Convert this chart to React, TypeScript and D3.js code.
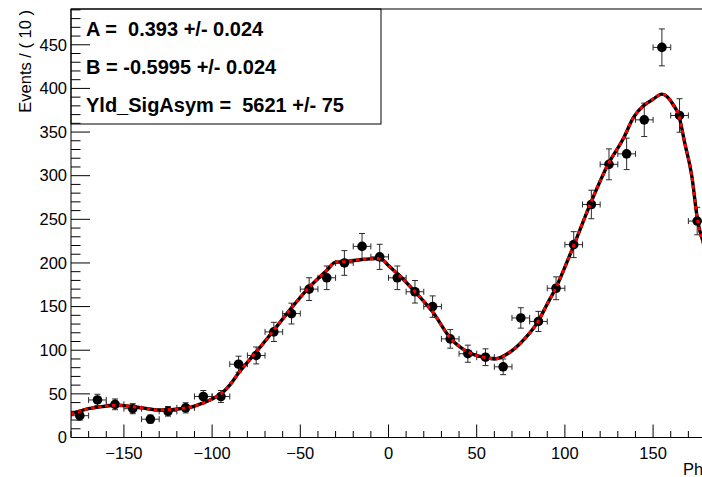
import React from "react";
import * as d3 from "d3";

// Bin centres (degrees) and event counts per 10-degree bin
const binCenters = [
  -175, -165, -155, -145, -135, -125, -115, -105, -95, -85, -75, -65, -55, -45, -35, -25, -15, -5,
  5, 15, 25, 35, 45, 55, 65, 75, 85, 95, 105, 115, 125, 135, 145, 155, 165, 175,
];
const binCounts = [
  25, 43, 38, 33, 21, 30, 34, 47, 47, 84, 94, 121, 142, 170, 183, 200, 219, 207,
  183, 167, 150, 113, 96, 92, 81, 137, 133, 171, 221, 267, 313, 325, 364, 447, 369, 248,
];

// Fitted PDF curve (phi, events per bin)
const fitPhi = [
  -180, -170, -160, -155, -150, -140, -130, -120, -110, -100, -95, -90, -85, -80, -75, -65, -56, -45,
  -35, -30, -25, -15, -7, -3, 0, 6.5, 15, 25, 35, 45, 55, 60, 69, 78, 84.5, 90, 95, 104, 114.5,
  124.5, 133, 139, 144.5, 150, 155, 158, 161.5, 164.5, 168, 172, 175, 180,
];
const fitVal = [
  27, 33, 36, 37, 36.5, 34, 31.5, 32.5, 36, 44, 50, 60, 74, 86, 98, 123, 146, 172,
  191.5, 201, 201.5, 204, 205, 203, 197, 185, 167, 144, 114, 98, 91.5, 90, 98, 115, 132, 153, 172, 215, 268,
  313, 342, 367, 380, 387.6, 393.5, 390.5, 381, 369.6, 337, 299, 252, 215,
];

const xMajorTicks = [-150, -100, -50, 0, 50, 100, 150];
const yMajorTicks = [0, 50, 100, 150, 200, 250, 300, 350, 400, 450];

const legendLines = [
  "A =  0.393 +/- 0.024",
  "B = -0.5995 +/- 0.024",
  "Yld_SigAsym =  5621 +/- 75",
];

const W = 702;
const H = 477;
const FONT = "'Liberation Sans', Arial, Helvetica, sans-serif";

export default function App() {
  const left = 71;
  const right = 706;
  const top = 9;
  const bottom = 437.5;

  const x = d3.scaleLinear().domain([-180, 180]).range([left, right]);
  const y = d3.scaleLinear().domain([0, 491]).range([bottom, top]);

  const xMinor = d3.range(-180, 181, 10).filter((v) => !xMajorTicks.includes(v));
  const yMinor = d3.range(0, 491, 10).filter((v) => !yMajorTicks.includes(v));

  const curveData = fitPhi.map((p, i) => [p, fitVal[i]] as [number, number]);
  const line = d3
    .line<[number, number]>()
    .x((d) => x(d[0]))
    .y((d) => y(d[1]))
    .curve(d3.curveMonotoneX);
  const pathD = line(curveData) || "";

  const fmt = (v: number) => (v < 0 ? "\u2212" + Math.abs(v) : String(v));

  const barColor = "#2a2a2a";

  return (
    <svg
      width={W}
      height={H}
      style={{ position: "absolute", left: 0, top: 0, background: "#fff" }}
      fontFamily={FONT}
    >
      <defs>
        <clipPath id="plotArea">
          <rect x={left} y={top} width={right - left} height={bottom - top} />
        </clipPath>
      </defs>

      {/* data points with Poisson error bars */}
      <g clipPath="url(#plotArea)">
        {binCenters.map((c, i) => {
          const n = binCounts[i];
          const err = Math.sqrt(n);
          const cx = x(c);
          const cy = y(n);
          const x0 = x(c - 5);
          const x1 = x(c + 5);
          const yTop = y(n + err);
          const yBot = y(n - err);
          return (
            <g key={c} stroke={barColor} strokeWidth={1} fill="none">
              <line x1={cx} x2={cx} y1={yTop} y2={yBot} />
              <line x1={cx - 3} x2={cx + 3} y1={yTop} y2={yTop} />
              <line x1={cx - 3} x2={cx + 3} y1={yBot} y2={yBot} />
              <line x1={x0} x2={x1} y1={cy} y2={cy} />
              <line x1={x0} x2={x0} y1={cy - 3} y2={cy + 3} />
              <line x1={x1} x2={x1} y1={cy - 3} y2={cy + 3} />
              <circle cx={cx} cy={cy} r={4.8} fill="#000" stroke="none" />
            </g>
          );
        })}

        {/* fit curve: black line with red dashes on top */}
        <path d={pathD} fill="none" stroke="#000" strokeWidth={3.4} />
        <path d={pathD} fill="none" stroke="#ff0000" strokeWidth={3} strokeDasharray="3.5 3.5" />
      </g>

      {/* parameter box */}
      <rect x={left} y={top} width={310} height={115} fill="#fff" stroke="#000" strokeWidth={1} />
      {legendLines.map((t, i) => (
        <text
          key={i}
          x={86}
          y={36 + i * 38}
          fontSize={20}
          fontWeight="bold"
          fill="#000"
          style={{ whiteSpace: "pre" }}
        >
          {t}
        </text>
      ))}

      {/* frame */}
      <g stroke="#000" strokeWidth={1} fill="none">
        <line x1={left} x2={right} y1={top} y2={top} />
        <line x1={left} x2={left} y1={top} y2={bottom} />
        <line x1={left} x2={right} y1={bottom} y2={bottom} />
      </g>

      {/* y axis ticks */}
      <g stroke="#000" strokeWidth={1}>
        {yMajorTicks.map((v) => (
          <line key={"ym" + v} x1={left} x2={left + 19} y1={y(v)} y2={y(v)} />
        ))}
        {yMinor.map((v) => (
          <line key={"yn" + v} x1={left} x2={left + 9.5} y1={y(v)} y2={y(v)} />
        ))}
      </g>
      {yMajorTicks.map((v) => (
        <text
          key={"yl" + v}
          x={67}
          y={y(v)}
          dy="0.35em"
          textAnchor="end"
          fontSize={16.5}
          fill="#000"
        >
          {v}
        </text>
      ))}

      {/* x axis ticks */}
      <g stroke="#000" strokeWidth={1}>
        {xMajorTicks.map((v) => (
          <line key={"xm" + v} x1={x(v)} x2={x(v)} y1={bottom} y2={bottom - 13} />
        ))}
        {xMinor.map((v) => (
          <line key={"xn" + v} x1={x(v)} x2={x(v)} y1={bottom} y2={bottom - 6.5} />
        ))}
      </g>
      {xMajorTicks.map((v) => (
        <text
          key={"xl" + v}
          x={x(v)}
          y={459}
          textAnchor="middle"
          fontSize={16.5}
          fill="#000"
        >
          {fmt(v)}
        </text>
      ))}

      {/* axis titles */}
      <text x={683} y={475} fontSize={16.5} fill="#000">
        Ph
      </text>
      <text
        transform="translate(31,10) rotate(-90)"
        textAnchor="end"
        fontSize={16.5}
        fill="#000"
      >
        Events / ( 10 )
      </text>
    </svg>
  );
}
